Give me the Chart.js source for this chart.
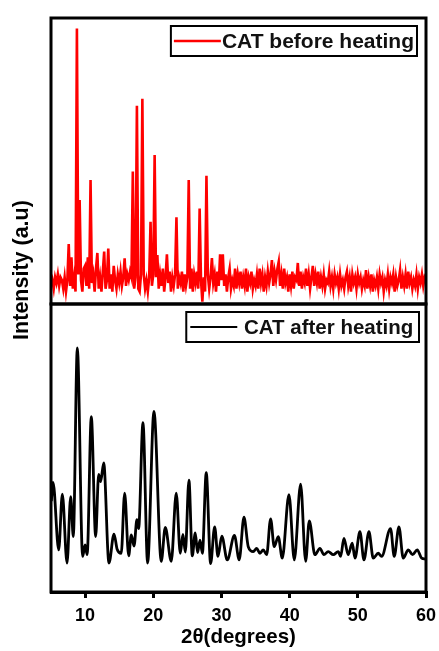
<!DOCTYPE html>
<html>
<head>
<meta charset="utf-8">
<script src="https://cdn.jsdelivr.net/npm/chart.js@4.4.1/dist/chart.umd.min.js"></script>
<style>
  html, body { margin: 0; padding: 0; background: #fff; }
  #wrap { position: relative; width: 439px; height: 651px; }
  #wrap canvas { position: absolute; left: 0; top: 0; }
</style>
</head>
<body>
<div id="wrap">
  <canvas id="afterChart" width="439" height="651"></canvas>
  <canvas id="beforeChart" width="439" height="651"></canvas>
</div>
<script>
'use strict';

const xMin = 5;
const xMax = 60;
const xTicks = [10, 20, 30, 40, 50, 60];

// CAT before heating, one value every 0.2 degrees from 5 to 60
const beforeStep = 0.2;
const beforeHeating = [
  6, 8, 5, 9, 7,          // 5
  10, 6, 9, 8, 5,         // 6
  9, 4, 8, 20.6, 6,       // 7
  16, 5, 9, 4, 96,        // 8
  10, 36, 8, 4, 12,       // 9
  13, 6, 16, 5, 43,       // 10
  7, 10, 4, 12, 17.5,     // 11
  5, 9, 4, 11, 18,        // 12
  5, 8, 19, 5, 10,        // 13
  4, 13, 8, 5, 10,        // 14
  7, 11, 6, 9, 15.6,      // 15
  6, 10, 8, 11, 9,        // 16
  46, 5, 9, 69, 5,        // 17
  4, 10, 71.4, 10, 5,     // 18
  8, 4, 9, 28.4, 6,       // 19
  10, 51.7, 9, 16.8, 5,   // 20
  10, 6, 12, 4, 9,        // 21
  17, 7, 11, 4, 9,        // 22
  6, 10, 30, 5, 9,        // 23
  7, 11, 4, 10, 6,        // 24
  9, 43, 5, 12, 4,        // 25
  10, 7, 11, 5, 33,       // 26
  8, 0.5, 9, 4, 44.5,     // 27
  10, 5, 9, 15.7, 7,      // 28
  10, 4, 11, 6, 17,       // 29
  8, 17, 6, 10, 4,        // 30
  9, 12, 5, 8, 6,         // 31
  12, 5, 10, 7, 11,       // 32
  5, 9, 6, 12, 4,         // 33
  9, 7, 11, 5, 8,         // 34
  6, 10, 5, 12, 7,        // 35
  10, 4, 9, 6, 11,        // 36
  7, 10, 15, 6, 11,       // 37
  8, 12, 14.5, 6, 10,     // 38
  5, 12, 7, 9, 4,         // 39
  10, 6, 11, 5, 9,        // 40
  8, 14, 6, 11, 5,        // 41
  9, 7, 12, 6, 10,        // 42
  5, 9, 13, 6, 10,        // 43
  7, 11, 5, 9, 6,         // 44
  10, 5, 8, 7, 11,        // 45
  6, 9, 5, 10, 7,         // 46
  9, 5, 10, 6, 8,         // 47
  5, 9, 11, 6, 9,         // 48
  4, 10, 7, 9, 5,         // 49
  10, 7, 9, 5, 8,         // 50
  6, 11.5, 5, 9, 6,       // 51
  10, 4, 8, 6, 9,         // 52
  5, 10, 7, 9, 4,         // 53
  8, 6, 10, 5, 9,         // 54
  7, 10, 4, 9, 6,         // 55
  8, 11.5, 5, 9, 6,       // 56
  10, 5, 11, 7, 9,        // 57
  5, 8, 6, 10, 5,         // 58
  9, 7, 10, 6, 9,         // 59
  8                       // 60
];

// CAT after heating: peak tops and valleys
const afterAngles = [
  5.05, 5.3, 6.13, 6.66, 7.35, 7.89, 8.27, 8.86, 9.64, 10.0,
  10.3, 10.91, 11.55, 11.99, 12.28, 12.73, 13.5, 14.24, 14.7, 15.3,
  15.8, 16.39, 16.78, 17.18, 17.6, 17.85, 18.49, 19.17, 20.1, 21.17,
  21.76, 22.64, 23.37, 23.96, 24.35, 24.7, 25.23, 25.72, 26.16, 26.5,
  26.85, 27.2, 27.77, 28.41, 29.0, 29.49, 30.05, 30.85, 31.9, 32.6,
  33.3, 33.93, 34.67, 35.16, 35.65, 36.13, 36.63, 37.21, 37.74, 38.33,
  38.92, 39.9, 40.68, 41.61, 42.35, 42.88, 43.71, 44.44, 45.03, 45.66,
  46.4, 47.13, 47.48, 47.96, 48.59, 49.18, 49.58, 50.31, 50.9, 51.63,
  52.26, 52.99, 53.49, 54.8, 55.34, 56.03, 56.66, 57.4, 58.03, 58.71,
  59.36, 59.9
];
const afterHeating = [
  31, 37.5, 14, 33.4, 9.4, 32.5, 18.6, 84.4, 11.7, 15.7,
  12.3, 60.4, 18.6, 40.3, 37.8, 44.3, 9.4, 19.5, 14.2, 12.8,
  33.8, 11.9, 19.2, 15.3, 24.5, 21.4, 58.3, 9.4, 62.3, 10,
  21.8, 10, 33.8, 12.8, 19.4, 13.2, 38.3, 11.9, 19.9, 13,
  17.4, 12.8, 40.9, 9.2, 22, 11.7, 18.8, 10.5, 19, 10.5,
  25.4, 15.1, 13.4, 14.5, 12.8, 14, 12.3, 24.8, 15.1, 18.6,
  11.1, 33.2, 10.5, 36.9, 10, 24.1, 12.3, 14.5, 12.3, 13.4,
  12.3, 13.4, 11.7, 18, 12.3, 16.3, 11.1, 20.3, 10.5, 20.3,
  11.1, 12.8, 11.7, 21.4, 11.7, 22, 11.1, 14, 12.3, 14,
  11.1, 10.8
];

const FONT = "'Liberation Sans', Arial, sans-serif";

// black box round the plot area
const framePlugin = {
  id: 'frame',
  afterDatasetsDraw(chart) {
    const { ctx, chartArea: a } = chart;
    ctx.save();
    ctx.strokeStyle = '#000';
    ctx.lineWidth = 3;
    ctx.strokeRect(a.left, a.top, a.right - a.left, a.bottom - a.top);
    ctx.restore();
  }
};

// framed legend inside the top right corner of the panel
const boxLegend = {
  id: 'boxLegend',
  afterDraw(chart, args, opts) {
    const { ctx, chartArea: a } = chart;
    const ds = chart.data.datasets[0];
    ctx.save();
    ctx.font = `bold ${opts.fontSize}px ${FONT}`;
    const tw = ctx.measureText(ds.label).width;
    const w = opts.pad + opts.lineLen + opts.gap + tw + opts.padRight;
    const right = a.right - opts.right;
    const left = right - w;
    const top = a.top + opts.top;
    const midY = top + opts.h / 2;
    ctx.fillStyle = '#fff';
    ctx.fillRect(left, top, w, opts.h);
    ctx.lineWidth = 2;
    ctx.strokeStyle = '#000';
    ctx.strokeRect(left, top, w, opts.h);
    ctx.strokeStyle = ds.borderColor;
    ctx.lineWidth = opts.lineWidth;
    ctx.beginPath();
    ctx.moveTo(left + opts.pad, midY);
    ctx.lineTo(left + opts.pad + opts.lineLen, midY);
    ctx.stroke();
    ctx.fillStyle = '#111';
    ctx.textBaseline = 'middle';
    ctx.fillText(ds.label, left + opts.pad + opts.lineLen + opts.gap, midY + 1);
    ctx.restore();
  }
};

// shared y title, drawn rotated at the left
const yTitle = {
  id: 'yTitle',
  afterDraw(chart, args, opts) {
    const { ctx } = chart;
    ctx.save();
    ctx.translate(opts.x, opts.y);
    ctx.rotate(-Math.PI / 2);
    ctx.font = `bold ${opts.size}px ${FONT}`;
    ctx.fillStyle = '#000';
    ctx.textAlign = 'center';
    ctx.textBaseline = 'middle';
    ctx.fillText(opts.text, 0, 0);
    ctx.restore();
  }
};

const beforeData = beforeHeating.map((v, i) => ({ x: xMin + i * beforeStep, y: v }));
const afterData = afterAngles.map((a, i) => ({ x: a, y: afterHeating[i] }));

new Chart(document.getElementById('afterChart'), {
  type: 'line',
  data: {
    datasets: [{
      label: 'CAT after heating',
      data: afterData,
      borderColor: '#000',
      borderWidth: 2.8,
      pointRadius: 0,
      cubicInterpolationMode: 'monotone',
      fill: false
    }]
  },
  options: {
    responsive: false,
    animation: false,
    events: [],
    layout: { padding: { left: 51, right: 13, top: 304, bottom: 0 } },
    scales: {
      x: {
        type: 'linear',
        min: xMin,
        max: xMax,
        afterBuildTicks: s => { s.ticks = xTicks.map(v => ({ value: v })); },
        afterFit: s => {
          s.height = 59;
          s.paddingLeft = 0;
          s.paddingRight = 0;
        },
        grid: { display: true, drawOnChartArea: false, drawTicks: true, tickLength: 6, lineWidth: 3, color: '#000' },
        border: { display: true, width: 3, color: '#000' },
        ticks: { padding: 7, color: '#000', maxRotation: 0, font: { family: FONT, size: 18, weight: 'bold' } },
        title: {
          display: true,
          text: '2θ(degrees)',
          color: '#000',
          font: { family: FONT, size: 20.5, weight: 'bold' },
          padding: { top: 0, bottom: 1 }
        }
      },
      y: { display: false, min: -0.7, max: 99.7 }
    },
    plugins: {
      legend: { display: false },
      tooltip: { enabled: false },
      boxLegend: { fontSize: 20.5, right: 7, top: 8, h: 30, pad: 4, lineLen: 47, gap: 6.7, padRight: 5.7, lineWidth: 2 },
      yTitle: { text: 'Intensity (a.u)', x: 22, y: 270, size: 21.5 }
    }
  },
  plugins: [framePlugin, boxLegend, yTitle]
});

new Chart(document.getElementById('beforeChart'), {
  type: 'line',
  data: {
    datasets: [{
      label: 'CAT before heating',
      data: beforeData,
      borderColor: '#ff0000',
      borderWidth: 2.6,
      pointRadius: 0,
      tension: 0,
      fill: false
    }]
  },
  options: {
    responsive: false,
    animation: false,
    events: [],
    layout: { padding: { left: 51, right: 13, top: 18, bottom: 347 } },
    scales: {
      x: { type: 'linear', display: false, min: xMin, max: xMax },
      y: { display: false, min: -0.35, max: 99.65 }
    },
    plugins: {
      legend: { display: false },
      tooltip: { enabled: false },
      boxLegend: { fontSize: 21, right: 9, top: 8, h: 30, pad: 3, lineLen: 47, gap: 1, padRight: 3, lineWidth: 2.6 }
    }
  },
  plugins: [framePlugin, boxLegend]
});
</script>
</body>
</html>
